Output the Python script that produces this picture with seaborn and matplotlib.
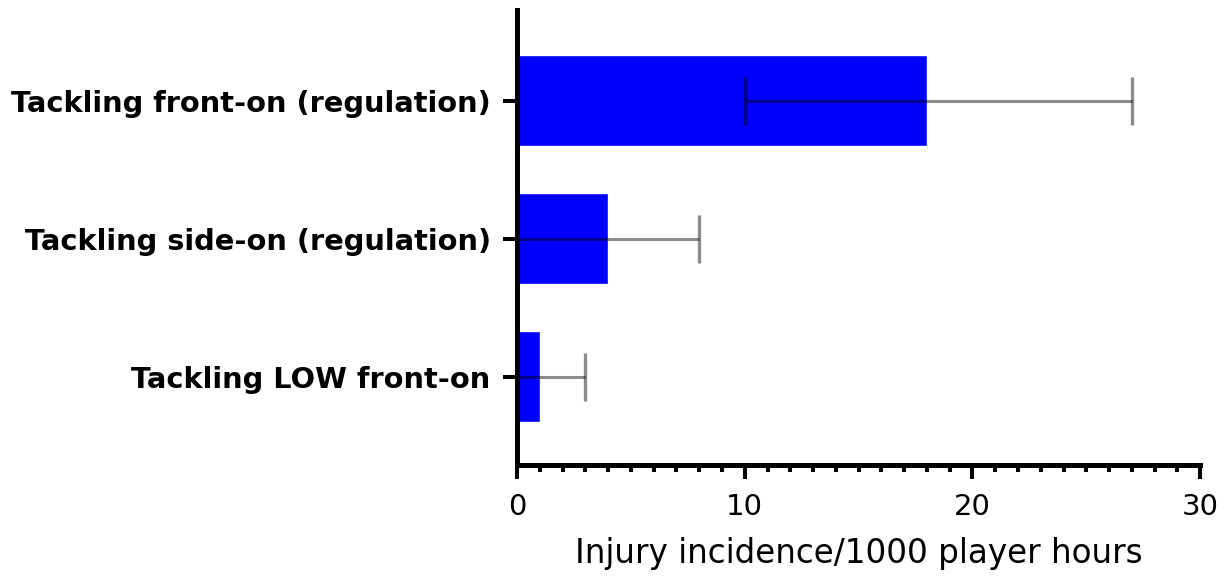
import numpy as np
import pandas as pd
import matplotlib.pyplot as plt
from matplotlib.ticker import MultipleLocator
import seaborn as sns

# data
categories = ['Tackling front-on (regulation)', 'Tackling side-on (regulation)', 'Tackling LOW front-on']
incidence = [18, 4, 1]
ci_low = [10, 0, 0]
ci_high = [27, 8, 3]

df = pd.DataFrame({'category': categories, 'incidence': incidence})

sns.set_style('ticks')
plt.rcParams['font.family'] = ['DejaVu Sans']
plt.rcParams['text.color'] = 'black'
plt.rcParams['axes.labelcolor'] = 'black'
plt.rcParams['xtick.color'] = 'black'
plt.rcParams['ytick.color'] = 'black'
plt.rcParams['axes.edgecolor'] = 'black'

fig = plt.figure(figsize=(12.31, 5.81), dpi=100)
ax = fig.add_axes([0.42, 0.2, 0.555, 0.783])

sns.barplot(data=df, x='incidence', y='category', orient='h', color='#0000ff',
            saturation=1, width=0.66, ax=ax)

# error bars
y_pos = np.arange(len(categories))
lo = np.array(incidence) - np.array(ci_low)
hi = np.array(ci_high) - np.array(incidence)
ax.errorbar(incidence, y_pos, xerr=[lo, hi], fmt='none', ecolor='black',
            alpha=0.45, elinewidth=2.2, capsize=17, capthick=2.4, zorder=5)

ax.set_xlim(0, 30)
ax.set_ylim(2.64, -0.66)
ax.xaxis.set_major_locator(MultipleLocator(10))
ax.xaxis.set_minor_locator(MultipleLocator(1))

sns.despine(ax=ax)
for side in ['left', 'bottom']:
    ax.spines[side].set_linewidth(3.6)

ax.tick_params(axis='x', which='major', length=10, width=2.9, labelsize=21, pad=10)
ax.tick_params(axis='x', which='minor', length=5, width=2.9)
ax.tick_params(axis='y', which='major', length=10, width=2.9, labelsize=20.8, pad=9)
for lbl in ax.get_yticklabels():
    lbl.set_fontweight('bold')

ax.set_ylabel('')
ax.set_xlabel('Injury incidence/1000 player hours', fontsize=23.5, labelpad=12)

fig.savefig('out.png', dpi=100)
